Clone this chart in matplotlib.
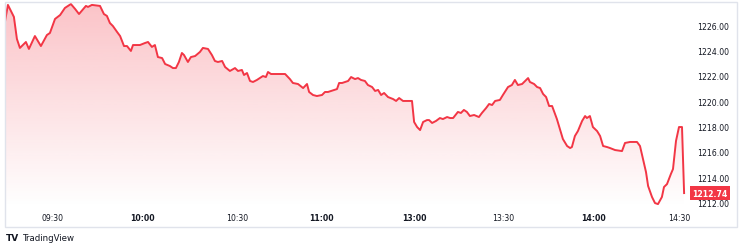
import numpy as np
import matplotlib
matplotlib.use('Agg')
import matplotlib.pyplot as plt
import matplotlib.transforms as mtransforms
from matplotlib.patches import Rectangle, PathPatch

# trading minutes since 09:15 (lunch break removed) and index value
minutes = [0.3, 1.3, 3.3, 4.3, 5.3, 7.3, 8.3, 10.3, 12.3, 14.3, 15.3, 17, 18.7, 20.3, 22.3, 23.7, 25,
           27.3, 28, 29.3, 32, 33.3, 34.3, 35.3, 36.3, 37.7, 38.7, 40, 41, 42.3, 43, 45.3, 47, 48,
           49.3, 50.3, 51.3, 52.7, 53.7, 55.3, 56.3, 57.3, 58.3, 59.3, 60, 61.3, 62.3, 63.7, 65.3,
           66.3, 68, 69.3, 70.3, 71.3, 72.7, 73.7, 75.3, 77, 78, 79.3, 80, 81, 82, 83, 84.3, 85.3,
           86.3, 87.3, 88, 89, 93.7, 95.3, 96.3, 98, 99.3, 99.7, 101, 101.7, 103, 104.3, 106, 107,
           108, 111, 111.7, 112.7, 113.7, 114.7, 115.7, 117, 118, 119, 120.3, 121.3, 122.7, 123.7,
           124.7, 125.7, 126.7, 128, 129.7, 130.7, 131.7, 133, 136, 136.7, 137.7, 138.7, 139.7, 141,
           141.7, 142.7, 144, 145.3, 146.3, 147.7, 148.7, 149.7, 151.3, 152.3, 153.3, 154.3, 155.3,
           156.7, 158.3, 159.3, 160.7, 161.7, 162.7, 163.7, 165.3, 166.3, 168, 169.3, 170.3, 171.3,
           172.7, 174.7, 175.3, 176.7, 177.7, 178.7, 179.7, 180.7, 181.7, 182.7, 183.3, 184.3, 185.3,
           186.3, 187.7, 188.7, 189.3, 190.3, 191.3, 192.7, 193.7, 194.3, 195.3, 196.3, 197.7, 198.7,
           199.7, 201, 202, 203.7, 206, 207, 208.7, 211, 212, 213, 214, 214.7, 216, 217, 218, 219.3,
           220, 221, 222.3, 223, 224, 225, 226, 226.7]
prices = [1226.26, 1227.61, 1226.66, 1224.92, 1224.21, 1224.68, 1224.13, 1225.15, 1224.36, 1225.23,
          1225.39, 1226.50, 1226.81, 1227.37, 1227.68, 1227.29, 1226.89, 1227.53, 1227.45, 1227.61,
          1227.53, 1226.89, 1226.74, 1226.18, 1225.94, 1225.47, 1225.15, 1224.36, 1224.36, 1223.97,
          1224.44, 1224.44, 1224.60, 1224.68, 1224.29, 1224.44, 1223.49, 1223.41, 1222.94, 1222.78,
          1222.62, 1222.62, 1223.10, 1223.81, 1223.65, 1223.10, 1223.49, 1223.57, 1223.89, 1224.21,
          1224.13, 1223.65, 1223.18, 1223.10, 1223.18, 1222.70, 1222.39, 1222.62, 1222.39, 1222.47,
          1222.07, 1222.23, 1221.60, 1221.52, 1221.68, 1221.83, 1221.99, 1221.91, 1222.31, 1222.15,
          1222.15, 1221.75, 1221.44, 1221.36, 1221.12, 1221.04, 1221.36, 1220.73, 1220.49, 1220.41,
          1220.49, 1220.73, 1220.73, 1220.96, 1221.44, 1221.44, 1221.52, 1221.60, 1221.91, 1221.75,
          1221.83, 1221.68, 1221.60, 1221.28, 1221.12, 1220.81, 1220.89, 1220.49, 1220.65, 1220.33,
          1220.17, 1220.02, 1220.25, 1220.02, 1220.02, 1218.36, 1217.96, 1217.72, 1218.36, 1218.51,
          1218.51, 1218.28, 1218.44, 1218.67, 1218.59, 1218.75, 1218.67, 1218.67, 1219.15, 1219.07,
          1219.31, 1219.15, 1218.83, 1218.91, 1218.75, 1219.07, 1219.46, 1219.78, 1219.70, 1220.02,
          1220.10, 1220.49, 1221.12, 1221.28, 1221.68, 1221.28, 1221.36, 1221.83, 1221.52, 1221.36,
          1221.12, 1221.04, 1220.57, 1220.33, 1219.62, 1219.62, 1219.23, 1218.59, 1217.80, 1217.01,
          1216.46, 1216.30, 1216.38, 1217.25, 1217.64, 1218.44, 1218.83, 1218.67, 1218.83, 1217.96,
          1217.64, 1217.25, 1216.46, 1216.38, 1216.30, 1216.14, 1216.06, 1216.70, 1216.78, 1216.78,
          1216.46, 1215.43, 1214.40, 1213.30, 1212.43, 1211.95, 1211.87, 1212.43, 1213.22, 1213.45,
          1214.25, 1214.64, 1216.86, 1217.96, 1217.96, 1212.74]

time_ticks = [16.2, 46.2, 77.6, 105.8, 136.7, 166.4, 196.4, 225.0]
time_labels = ['09:30', '10:00', '10:30', '11:00', '13:00', '13:30', '14:00', '14:30']
hour_labels = ['10:00', '11:00', '13:00', '14:00']
price_ticks = [1212, 1214, 1216, 1218, 1220, 1222, 1224, 1226]

red = '#f23645'
txt = '#131722'
ymin, ymax = 1211.64, 1227.84

fig = plt.figure(figsize=(7.42, 2.51), dpi=100)
ax = fig.add_axes([5/742, 1 - 208/251, 683/742, 205/251])
ax.set_xlim(0.33, 228)
ax.set_ylim(ymin, ymax)
for s in ax.spines.values():
    s.set_visible(False)

# gradient fill under the line
poly = ax.fill_between(minutes, prices, ymin, facecolor='none', edgecolor='none')
clip = PathPatch(poly.get_paths()[0], transform=ax.transData, facecolor='none', edgecolor='none')
ax.add_patch(clip)
grad = np.zeros((256, 1, 4))
grad[..., :3] = matplotlib.colors.to_rgb(red)
grad[:, 0, 3] = np.linspace(0.30, 0.0, 256)
im = ax.imshow(grad, extent=[0.33, 228, ymin, ymax], aspect='auto', origin='upper', zorder=1)
im.set_clip_path(clip)

ax.plot(minutes, prices, color=red, lw=1.4, zorder=3, solid_joinstyle='round')

ax.set_xticks(time_ticks)
ax.set_xticklabels(time_labels)
for lab in ax.get_xticklabels():
    if lab.get_text() in hour_labels:
        lab.set_fontweight('bold')
ax.tick_params(axis='x', length=0, pad=4, labelsize=5.6, labelcolor=txt)

ax.yaxis.tick_right()
ax.set_yticks(price_ticks)
ax.set_yticklabels(['%.2f' % p for p in price_ticks])
ax.tick_params(axis='y', length=0, pad=6.5, labelsize=5.6, labelcolor=txt)

# last price label
trans = mtransforms.blended_transform_factory(ax.transAxes, ax.transData)
ax.text(1.006, prices[-1], '%.2f' % prices[-1], transform=trans, color='white',
        fontsize=5.6, fontweight='bold', va='center', ha='left', zorder=5,
        bbox=dict(boxstyle='square,pad=0.3', fc=red, ec='none'))

# outer frame
fig.add_artist(Rectangle((5/742, 1 - 228/251), 732/742, 225/251, transform=fig.transFigure,
                         fill=False, edgecolor='#e0e3eb', lw=1))

fig.text(6/742, 1 - 239/251, 'TV', fontsize=6.5, fontweight='heavy', color=txt, va='center')
fig.text(23/742, 1 - 239/251, 'TradingView', fontsize=6.2, color=txt, va='center')

fig.savefig('out.png', dpi=100)
